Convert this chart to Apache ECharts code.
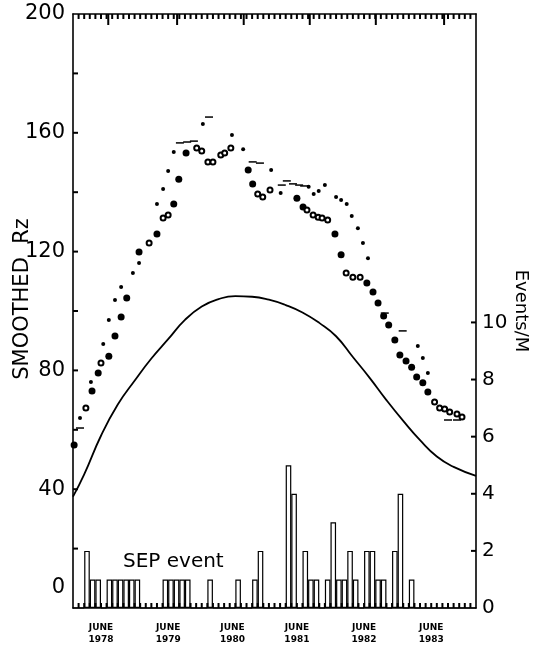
<!DOCTYPE html>
<html>
<head>
<meta charset="utf-8">
<script src="https://cdn.jsdelivr.net/npm/echarts@6/dist/echarts.min.js"></script>
<style>
  html, body { margin: 0; padding: 0; background: #fff; }
  #chart { width: 541px; height: 646px; }
</style>
</head>
<body>
<div id="chart"></div>
<script>
// x values are months counted from the left edge of the frame
const yearLabels = ['1978', '1979', '1980', '1981', '1982', '1983'];
const labelMonths = [5, 17, 28.5, 40, 52, 64];
const yearTickMonths = [6.3, 18.6, 30.5, 42.3, 54.1, 66.3];
const leftLabels = [0, 40, 80, 120, 160, 200];
const leftTicks = [20, 40, 60, 80, 100, 120, 140, 160, 180];
const rightLabels = [0, 2, 4, 6, 8, 10];

// smooth curve (left axis)
const curveMonths = [0, 2, 5, 8, 11, 14, 17, 20, 23, 26, 29, 32, 35, 38, 41, 44, 47, 50, 53, 56, 59, 62, 65, 68, 72];
const curveRz = [37.5, 45, 58, 68.5, 76.5, 84, 90.5, 97, 101.5, 104, 105, 104.8, 103.8, 102, 99.5, 96, 91.5, 84.5, 77.5, 70, 63, 56.5, 51, 47.5, 44.5];

// large filled dots [month, Rz]
const largeDots = [
  [0.2, 54.9], [3.4, 73.1], [4.5, 79.1], [6.4, 84.8], [7.5, 91.6], [8.6, 98.0], [9.6, 104.4],
  [11.8, 119.9], [15.0, 125.9], [18.0, 136.0], [18.9, 144.4], [20.2, 153.2], [31.3, 147.5],
  [32.1, 142.8], [40.0, 138.0], [41.1, 135.0], [46.8, 125.9], [47.9, 118.9], [52.5, 109.4],
  [53.6, 106.4], [54.5, 102.7], [55.5, 98.3], [56.4, 95.3], [57.5, 90.2], [58.4, 85.2],
  [59.5, 83.2], [60.5, 81.1], [61.4, 77.8], [62.5, 75.8], [63.4, 72.7]
];

// small filled dots
const smallDots = [
  [1.25, 64.0], [3.2, 76.1], [5.4, 88.9], [6.4, 97.0], [7.5, 103.7], [8.6, 108.1], [10.7, 112.8],
  [11.8, 116.2], [15.0, 136.0], [16.1, 141.1], [17.0, 147.1], [18.0, 153.5], [23.2, 163.0],
  [28.4, 159.3], [30.4, 154.5], [35.4, 147.5], [37.1, 139.7], [42.1, 141.8], [43.0, 139.4],
  [43.9, 140.4], [45.0, 142.4], [47.0, 138.4], [47.9, 137.4], [48.9, 136.0], [49.8, 132.0],
  [50.9, 127.9], [51.8, 122.9], [52.7, 117.8], [61.6, 88.2], [62.5, 84.2], [63.4, 79.1]
];

// open circles
const openCircles = [
  [2.3, 67.3], [5.0, 82.5], [13.6, 122.9], [16.1, 131.3], [17.0, 132.3], [22.1, 154.9],
  [23.0, 153.9], [24.1, 150.2], [25.0, 150.2], [26.4, 152.5], [27.1, 153.2], [28.2, 154.9],
  [33.0, 139.4], [33.9, 138.4], [35.2, 140.7], [41.8, 134.0], [42.9, 132.3], [43.8, 131.6],
  [44.5, 131.3], [45.5, 130.6], [48.8, 112.8], [50.0, 111.4], [51.3, 111.4], [64.6, 69.4],
  [65.5, 67.3], [66.4, 67.0], [67.3, 66.0], [68.6, 65.3], [69.5, 64.3]
];

// short horizontal dashes
const dashes = [
  [1.25, 60.6], [19.1, 156.6], [20.4, 156.9], [21.6, 157.2], [24.3, 165.3], [32.1, 150.2],
  [33.4, 149.8], [37.3, 142.4], [38.2, 143.8], [39.3, 142.8], [40.4, 142.4], [41.3, 142.1],
  [55.7, 99.3], [58.9, 93.3], [67.0, 63.3], [68.6, 63.3]
];

// SEP events per month (right axis), one value per month
const sepEvents = [
  0, 0, 2, 1, 1, 0, 1, 1, 1, 1, 1, 1,
  0, 0, 0, 0, 1, 1, 1, 1, 1, 0, 0, 0,
  1, 0, 0, 0, 0, 1, 0, 0, 1, 2, 0, 0,
  0, 0, 5, 4, 0, 2, 1, 1, 0, 1, 3, 1,
  1, 2, 1, 0, 2, 2, 1, 1, 0, 2, 4, 0,
  1, 0, 0, 0, 0, 0, 0, 0, 0, 0, 0, 0
];

const ink = '#000';
const font = 'DejaVu Sans';
const rightMax = 20.8;
const monthMax = 72;
const allMonths = Array.from({length: monthMax - 1}, (_, i) => i + 1);

let chart = echarts.init(document.getElementById('chart'));

function gridBox() {
  return { left: 73, right: 65, top: 14, bottom: 38, outerBoundsMode: 'none' };
}
function frameLine() {
  return { show: true, onZero: false, lineStyle: { color: ink, width: 1.6 } };
}
// tick marks drawn as thin rect symbols sitting on the frame
function tickSeries(name, data, size, offset, yIndex) {
  return {
    name: name, type: 'scatter', xAxisIndex: 0, yAxisIndex: yIndex || 0,
    symbol: 'rect', symbolSize: size, symbolOffset: offset, clip: false, z: 10,
    silent: true, data: data, itemStyle: { color: ink, opacity: 1 }
  };
}

let option = {
  backgroundColor: '#fff',
  animation: false,
  grid: [gridBox(), gridBox()],
  xAxis: [
    {
      gridIndex: 0, type: 'value', position: 'bottom', min: 0, max: monthMax,
      axisLine: frameLine(),
      axisTick: { show: false },
      splitLine: { show: false },
      axisLabel: {
        customValues: labelMonths,
        formatter: v => 'JUNE\n' + yearLabels[labelMonths.indexOf(v)],
        color: ink, fontFamily: font, fontSize: 9, fontWeight: 'bold', lineHeight: 12, margin: 14
      }
    },
    {
      gridIndex: 0, type: 'value', position: 'top', min: 0, max: monthMax,
      axisLine: frameLine(),
      axisTick: { show: false },
      axisLabel: { show: false },
      splitLine: { show: false }
    },
    {
      gridIndex: 1, type: 'category', position: 'bottom', show: false, boundaryGap: true,
      data: sepEvents.map((_, i) => String(i))
    }
  ],
  yAxis: [
    {
      gridIndex: 0, type: 'value', position: 'left', min: 0, max: 200,
      name: 'SMOOTHED  Rz', nameLocation: 'middle', nameGap: 40, nameMoveOverlap: false,
      nameTextStyle: { color: ink, fontFamily: font, fontSize: 21, padding: [0, 0, 0, 24] },
      axisLine: frameLine(),
      axisTick: { show: false },
      splitLine: { show: false },
      axisLabel: {
        customValues: leftLabels,
        formatter: v => v === 0 ? '{low|0}' : String(v),
        color: ink, fontFamily: font, fontSize: 21, margin: 8,
        rich: { low: { fontFamily: font, fontSize: 21, color: ink, padding: [0, 0, 40, 0] } }
      }
    },
    {
      gridIndex: 0, type: 'value', position: 'right', min: 0, max: rightMax,
      name: 'Events/M', nameLocation: 'middle', nameGap: 36, nameRotate: -90, nameMoveOverlap: false,
      nameTextStyle: { color: ink, fontFamily: font, fontSize: 18 },
      axisLine: frameLine(),
      axisTick: { show: false },
      splitLine: { show: false },
      axisLabel: {
        customValues: rightLabels,
        color: ink, fontFamily: font, fontSize: 20, margin: 6
      }
    },
    {
      gridIndex: 1, type: 'value', show: false, min: 0, max: rightMax
    }
  ],
  graphic: [
    {
      type: 'text', left: 123, top: 552,
      style: { text: 'SEP event', fill: ink, font: '20px "DejaVu Sans"' }
    }
  ],
  series: [
    {
      name: 'SEP events', type: 'bar', xAxisIndex: 2, yAxisIndex: 2,
      barCategoryGap: '0%', data: sepEvents,
      itemStyle: { color: 'rgba(0,0,0,0)', borderColor: ink, borderWidth: 1.2 }
    },
    {
      name: 'curve', type: 'line', xAxisIndex: 0, yAxisIndex: 0, smooth: true, showSymbol: false,
      data: curveMonths.map((m, i) => [m, curveRz[i]]),
      lineStyle: { color: ink, width: 1.8 }
    },
    {
      name: 'large', type: 'scatter', symbol: 'circle', symbolSize: 7,
      data: largeDots, itemStyle: { color: ink, opacity: 1 }
    },
    {
      name: 'small', type: 'scatter', symbol: 'circle', symbolSize: 4,
      data: smallDots, itemStyle: { color: ink, opacity: 1 }
    },
    {
      name: 'open', type: 'scatter', symbol: 'emptyCircle', symbolSize: 5,
      data: openCircles, itemStyle: { color: ink, borderColor: ink, borderWidth: 1.2, opacity: 1 }
    },
    {
      name: 'dash', type: 'scatter', symbol: 'rect', symbolSize: [8, 1.5],
      data: dashes, itemStyle: { color: ink, opacity: 1 }
    },
    tickSeries('top months', allMonths.map(m => [m, 200]), [2, 5], [0, 2.5]),
    tickSeries('top years', yearTickMonths.map(m => [m, 200]), [2, 11], [0, 5.5]),
    tickSeries('bottom months', allMonths.map(m => [m, 0]), [2, 5], [0, -2.5]),
    tickSeries('left ticks', leftTicks.map(v => [0, v]), [5, 2], [2.5, 0]),
    tickSeries('right ticks', rightLabels.slice(1).map(v => [monthMax, v]), [5, 2], [-2.5, 0], 1)
  ]
};

chart.setOption(option);
</script>
</body>
</html>
